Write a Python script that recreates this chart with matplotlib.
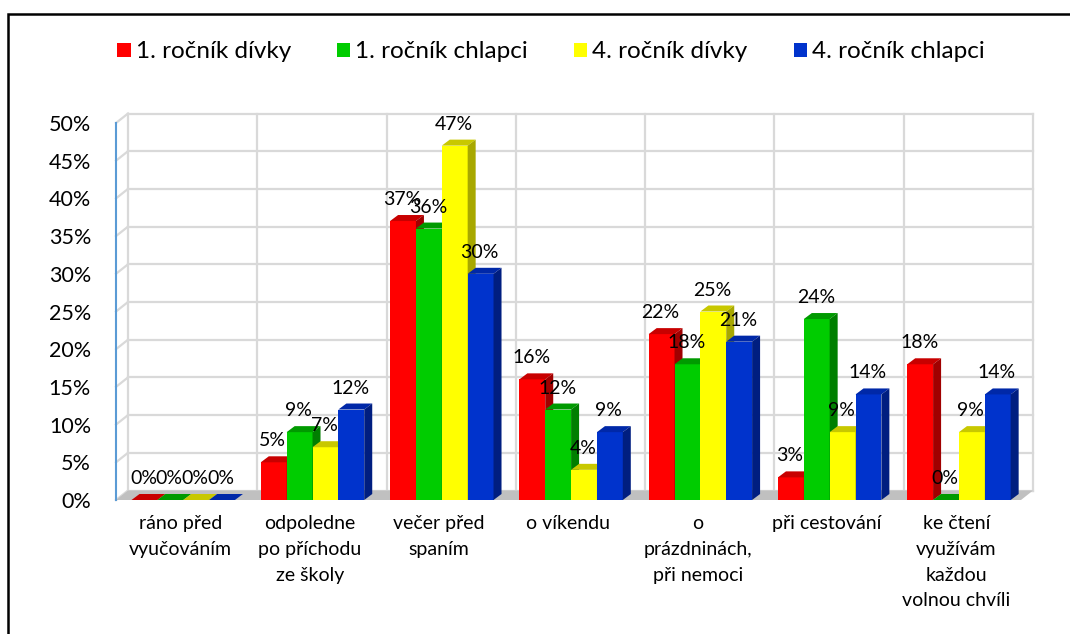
import matplotlib
matplotlib.use("Agg")
import matplotlib.pyplot as plt
from matplotlib.patches import Polygon, Patch, Rectangle
import numpy as np

plt.rcParams['font.family'] = ['Lato', 'DejaVu Sans']

categories = ["ráno před\nvyučováním",
              "odpoledne\npo příchodu\nze školy",
              "večer před\nspaním",
              "o víkendu",
              "o\nprázdninách,\npři nemoci",
              "při cestování",
              "ke čtení\nvyužívám\nkaždou\nvolnou chvíli"]
series = ["1. ročník dívky", "1. ročník chlapci", "4. ročník dívky", "4. ročník chlapci"]
girls_1 = [0, 5, 37, 16, 22, 3, 18]
boys_1 = [0, 9, 36, 12, 18, 24, 0]
girls_4 = [0, 7, 47, 4, 25, 9, 9]
boys_4 = [0, 12, 30, 9, 21, 14, 14]
values = [girls_1, boys_1, girls_4, boys_4]
yticks = np.arange(0, 51, 5)

front_colors = ['#FF0000', '#00CC00', '#FFFF00', '#0033CC']
top_colors = ['#C80000', '#009A00', '#C8C800', '#0028A8']
side_colors = ['#A00000', '#007F00', '#A8A800', '#001E80']
grid = '#D9D9D9'

W, H = 1070, 634
fig = plt.figure(figsize=(W / 100, H / 100), dpi=100)
ax = fig.add_axes([116 / W, (H - 500) / H, 905 / W, 377 / H])
n = len(categories)
ax.set_xlim(0, n)
ax.set_ylim(0, 50)

# pixel -> data units
px = n / 905
py = 50 / 377
wdx, wdy = 12 * px, 9.5 * py   # wall depth
bdx, bdy = 8 * px, 6 * py      # bar depth

# floor and walls
ax.add_patch(Polygon([(0, 0), (n, 0), (n + wdx, wdy), (wdx, wdy)], closed=True,
                     fc='#C0C0C0', ec='none', clip_on=False, zorder=1))
for v in yticks:
    ax.plot([wdx, n + wdx], [v + wdy] * 2, color=grid, lw=1.6, clip_on=False, zorder=0)
    ax.plot([0, wdx], [v, v + wdy], color=grid, lw=1.6, clip_on=False, zorder=0)
for k in range(n + 1):
    ax.plot([k + wdx] * 2, [wdy, 50 + wdy], color=grid, lw=1.6, clip_on=False, zorder=0)

# bars
width = 0.2
x = np.arange(n)
for j, vals in enumerate(values):
    z = 2 + j * 0.1
    bars = ax.bar(x + 0.12 + j * width, vals, width=width, align='edge',
                  color=front_colors[j], zorder=z, clip_on=False)
    for rect in bars:
        l, w, h = rect.get_x(), rect.get_width(), rect.get_height()
        ax.add_patch(Polygon([(l, h), (l + w, h), (l + w + bdx, h + bdy), (l + bdx, h + bdy)],
                             closed=True, fc=top_colors[j], ec='none', zorder=z + 0.01,
                             clip_on=False))
        if h > 0:
            ax.add_patch(Polygon([(l + w, 0), (l + w, h), (l + w + bdx, h + bdy), (l + w + bdx, bdy)],
                                 closed=True, fc=side_colors[j], ec='none', zorder=z + 0.02,
                                 clip_on=False))
        ax.text(l + w / 2 - 1 * px, h + bdy + 10 * py, f"{h:g}%", ha='center', va='baseline',
                fontsize=14, color='black', zorder=5)

# axes
ax.set_yticks(yticks, [f"{v}%" for v in yticks], fontsize=15.5)
ax.tick_params(axis='y', length=0, pad=18)
ax.set_xticks(x + 0.5, categories, fontsize=14, linespacing=1.62)
ax.tick_params(axis='x', length=0, pad=11)
for s in ['top', 'right', 'bottom']:
    ax.spines[s].set_visible(False)
ax.spines['left'].set_color('#5B9BD5')
ax.spines['left'].set_linewidth(1.5)
ax.spines['left'].set_zorder(6)
ax.patch.set_alpha(0)

handles = [Patch(fc=c, ec='none') for c in front_colors]
fig.legend(handles, series, loc='center', bbox_to_anchor=(551 / W, 1 - 52 / H), ncol=4,
           frameon=False, fontsize=17.5, handlelength=0.55, handleheight=0.55,
           handletextpad=0.2, columnspacing=1.9)

fig.add_artist(Rectangle((8 / W, -0.1), 1.2, 1.1 - 14 / H, transform=fig.transFigure,
                         fill=False, ec='black', lw=1.8))

fig.savefig('out.png', dpi=100)
